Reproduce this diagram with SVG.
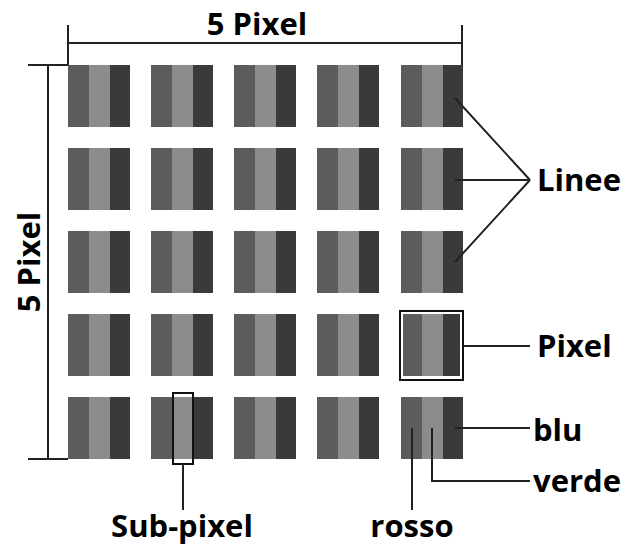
<svg xmlns="http://www.w3.org/2000/svg" width="632" height="553" viewBox="0 0 632 553">
<defs>
<style>
.l{stroke:#222;stroke-width:2;fill:none}
.t{font-family:"Open Sans",sans-serif;font-weight:bold;font-size:31px;fill:#000}
</style>
<g id="px">
<rect x="0" y="0" width="21" height="62" fill="#5c5c5c"/>
<rect x="21" y="0" width="21" height="62" fill="#8c8c8c"/>
<rect x="42" y="0" width="20" height="62" fill="#3a3a3a"/>
</g>
</defs>
<rect width="632" height="553" fill="#fff"/>
<g id="grid">
<use href="#px" x="68" y="65"/><use href="#px" x="151" y="65"/><use href="#px" x="234" y="65"/><use href="#px" x="317" y="65"/><use href="#px" x="401" y="65"/>
<use href="#px" x="68" y="148"/><use href="#px" x="151" y="148"/><use href="#px" x="234" y="148"/><use href="#px" x="317" y="148"/><use href="#px" x="401" y="148"/>
<use href="#px" x="68" y="231"/><use href="#px" x="151" y="231"/><use href="#px" x="234" y="231"/><use href="#px" x="317" y="231"/><use href="#px" x="401" y="231"/>
<use href="#px" x="68" y="314"/><use href="#px" x="151" y="314"/><use href="#px" x="234" y="314"/><use href="#px" x="317" y="314"/><use href="#px" x="401" y="314"/>
<use href="#px" x="68" y="397"/><use href="#px" x="151" y="397"/><use href="#px" x="234" y="397"/><use href="#px" x="317" y="397"/><use href="#px" x="401" y="397"/>
</g>
<g id="pixel-box"><rect x="400" y="311" width="63" height="69" fill="none" stroke="#111" stroke-width="2"/><rect x="402" y="313" width="59" height="65" fill="none" stroke="#fff" stroke-width="2"/></g>
<g id="subpixel-box"><rect x="173" y="393" width="20" height="71" fill="none" stroke="#111" stroke-width="2"/></g>
<g id="connectors">
<path class="l" d="M68 25V65M462 25V65M68 43H462"/>
<path class="l" d="M28 65H68M28 459H68M48 65V459"/>
<path class="l" d="M455 98L530 180M455 180H530M455 262L530 180"/>
<path class="l" d="M463 346H530"/>
<path class="l" d="M455 428H530"/>
<path class="l" d="M432 428V481H530"/>
<path class="l" d="M412 428V510"/>
<path class="l" d="M183 464V510"/>
</g>
<g id="labels">
<text class="t" x="257" y="35" text-anchor="middle">5 Pixel</text>
<text class="t" transform="translate(40,262) rotate(-90)" text-anchor="middle">5 Pixel</text>
<text class="t" x="537" y="191">Linee</text>
<text class="t" x="537" y="357">Pixel</text>
<text class="t" x="533" y="441">blu</text>
<text class="t" x="533" y="492">verde</text>
<text class="t" x="412" y="537" text-anchor="middle">rosso</text>
<text class="t" x="182" y="537" text-anchor="middle">Sub-pixel</text>
</g>
</svg>
